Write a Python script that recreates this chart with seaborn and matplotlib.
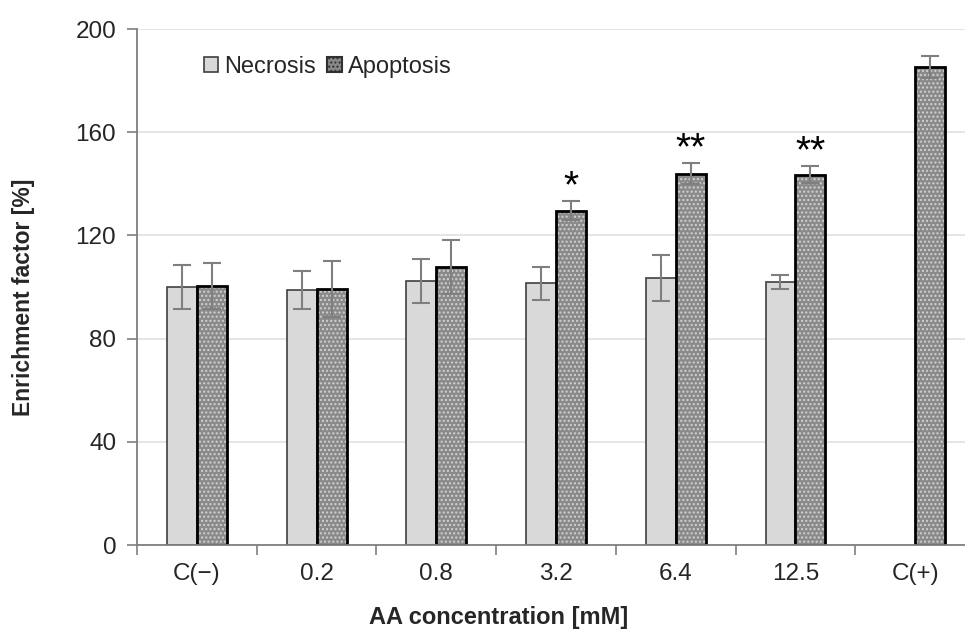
import numpy as np
import pandas as pd
import matplotlib
matplotlib.use("Agg")
import matplotlib.pyplot as plt
import seaborn as sns
from matplotlib.patches import Rectangle, Patch

# ---------------- data ----------------
categories = ["C(\u2212)", "0.2", "0.8", "3.2", "6.4", "12.5", "C(+)"]
series = ["Necrosis", "Apoptosis"]
necrosis = [100.1, 98.8, 102.3, 101.4, 103.6, 101.8, np.nan]
necrosis_err = [8.5, 7.4, 8.6, 6.4, 8.9, 2.7, np.nan]
apoptosis = [100.4, 99.2, 107.6, 129.5, 143.9, 143.5, 185.4]
apoptosis_err = [9.0, 11.0, 10.5, 3.7, 4.0, 3.3, 4.2]
significance = ["", "", "", "*", "**", "**", ""]
yticks = [0, 40, 80, 120, 160, 200]
xlabel = "AA concentration [mM]"
ylabel = "Enrichment factor [%]"

# ---------------- style ----------------
sns.set_style("white")
plt.rcParams["font.family"] = ["Liberation Sans", "DejaVu Sans"]
plt.rcParams["hatch.linewidth"] = 1.0

nec_color = "#d9d9d9"
apo_color = "#8a8a8a"
dot_color = "#d2d2d2"
axis_color = "#7f7f7f"

df = pd.DataFrame({
    "category": categories * 2,
    "series": [series[0]] * len(categories) + [series[1]] * len(categories),
    "value": necrosis + apoptosis,
    "err": necrosis_err + apoptosis_err,
})

fig = plt.figure(figsize=(9.65, 6.32), dpi=100)
ax = fig.add_axes([137 / 965, 87 / 632, 838 / 965, 516 / 632])

sns.barplot(data=df, x="category", y="value", hue="series",
            order=categories, hue_order=series,
            palette={series[0]: nec_color, series[1]: apo_color},
            width=0.5, errorbar=None, saturation=1, legend=False,
            ax=ax, zorder=3)

errs = {series[0]: necrosis_err, series[1]: apoptosis_err}
tops = {}
for cont, name in zip(ax.containers, series):
    for p in cont.patches:
        if not np.isfinite(p.get_height()):
            continue
        xc = p.get_x() + p.get_width() / 2
        idx = int(round(xc))
        if name == series[1]:
            p.set_edgecolor(dot_color)
            p.set_linewidth(0)
            p.set_hatch("....")
            ax.add_patch(Rectangle(p.get_xy(), p.get_width(), p.get_height(),
                                   fill=False, edgecolor="black", linewidth=2.0,
                                   zorder=4))
        else:
            p.set_edgecolor("#404040")
            p.set_linewidth(1.2)
        e = errs[name][idx]
        ax.errorbar(xc, p.get_height(), yerr=e, fmt="none", ecolor=axis_color,
                    elinewidth=1.5, capsize=6.5, capthick=1.5, zorder=5)
        if name == series[1]:
            tops[idx] = (xc, p.get_height() + e)

for idx, lab in enumerate(significance):
    if lab and idx in tops:
        xc, yt = tops[idx]
        ax.text(xc, yt + 1.5, lab, ha="center", va="baseline", fontsize=28,
                color="black", zorder=6)

# ---------------- axes ----------------
ax.set_xlim(-0.5, len(categories) - 0.5)
ax.set_ylim(0, 200)
ax.set_yticks(yticks)
ax.set_yticklabels([str(t) for t in yticks])
ax.yaxis.grid(True, color="#e0e0e0", linewidth=1.2, zorder=0)
ax.set_axisbelow(True)
for s in ["top", "right"]:
    ax.spines[s].set_visible(False)
for s in ["left", "bottom"]:
    ax.spines[s].set_color(axis_color)
    ax.spines[s].set_linewidth(1.3)
    ax.spines[s].set_zorder(6)

ax.tick_params(axis="y", which="major", direction="out", length=7, width=1.2,
               color=axis_color, labelsize=17.5, pad=8, left=True)
ax.tick_params(axis="x", which="major", length=0, labelsize=17.5, pad=13)
ax.set_xticks(np.arange(len(categories) + 1) - 0.5, minor=True)
ax.tick_params(axis="x", which="minor", direction="out", length=7, width=1.2,
               color=axis_color, bottom=True)

ax.set_xlabel(xlabel, fontsize=17, fontweight="bold")
ax.set_ylabel(ylabel, fontsize=16.5, fontweight="bold")
ax.xaxis.set_label_coords(0.432, -0.118)
ax.yaxis.set_label_coords(-0.122, 0.48)

handles = [Patch(facecolor=nec_color, edgecolor="#404040", linewidth=1.2),
           Patch(facecolor=apo_color, edgecolor="#303030", linewidth=1.5, hatch="....")]
ax.legend(handles, series, loc="center left", bbox_to_anchor=(0.0685, 0.926),
          ncol=2, frameon=False, fontsize=17, handlelength=0.6, handleheight=0.6,
          handletextpad=0.25, columnspacing=0.5, borderaxespad=0)

fig.savefig("out.png", dpi=100)
